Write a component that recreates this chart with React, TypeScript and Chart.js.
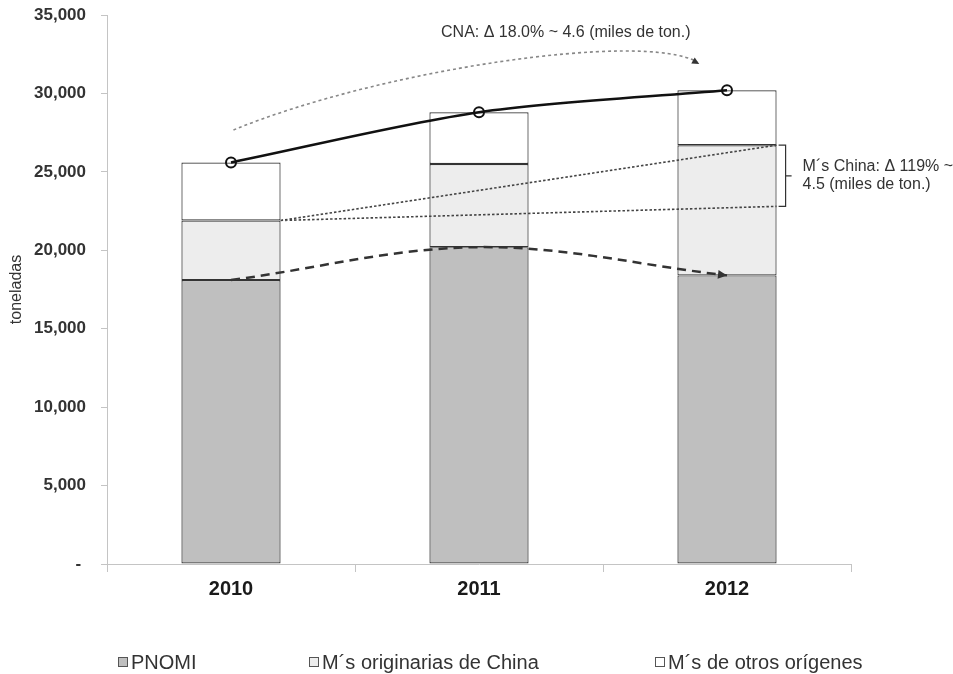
import React, { useEffect, useRef } from "react";
import { Chart, registerables } from "chart.js";

Chart.register(...registerables);

const categories = ["2010", "2011", "2012"];
const pnomi = [18100, 20200, 18400];
const china = [3800, 5300, 8300];
const otros = [3700, 3300, 3500];
const totals = [25600, 28800, 30200];
const seriesLabels = ["PNOMI", "M´s originarias de China", "M´s de otros orígenes"];
const seriesColors = ["#bfbfbf", "#ededed", "#ffffff"];
const cnaText = "CNA: Δ 18.0% ~ 4.6 (miles de ton.)";
const chinaText = ["M´s China: Δ 119% ~", "4.5 (miles de ton.)"];
const chinaLowerEnd = 22800;
// curved dotted arrow: start, control 1, control 2, end (category index, value)
const cnaArrowX = [0.01, 0.6, 1.66, 1.88];
const cnaArrowY = [27670, 31500, 34000, 32000];
const cnaTextPos = { x: 1.35, y: 33900 };

const FONT = "'Liberation Sans', Arial, Helvetica, sans-serif";

function arrowHead(ctx: CanvasRenderingContext2D, x: number, y: number, dx: number, dy: number, size: number, color: string) {
  const a = Math.atan2(dy, dx);
  ctx.save();
  ctx.setLineDash([]);
  ctx.fillStyle = color;
  ctx.beginPath();
  ctx.moveTo(x, y);
  ctx.lineTo(x - size * Math.cos(a - 0.45), y - size * Math.sin(a - 0.45));
  ctx.lineTo(x - size * Math.cos(a + 0.45), y - size * Math.sin(a + 0.45));
  ctx.closePath();
  ctx.fill();
  ctx.restore();
}

const annotationPlugin = {
  id: "annotations",
  afterDatasetsDraw(chart: any) {
    const ctx: CanvasRenderingContext2D = chart.ctx;
    const xs = chart.scales.x;
    const ys = chart.scales.y;
    const bars = chart.getDatasetMeta(1).data;
    ctx.save();

    // dotted lines from China 2010 top to 2012
    const x0 = bars[0].x + bars[0].width / 2;
    const y0 = ys.getPixelForValue(pnomi[0] + china[0]);
    const x2 = bars[2].x + bars[2].width / 2;
    const yTop = ys.getPixelForValue(pnomi[2] + china[2]);
    const yLow = ys.getPixelForValue(chinaLowerEnd);
    ctx.strokeStyle = "#444";
    ctx.lineWidth = 1.6;
    ctx.setLineDash([2.5, 2]);
    ctx.beginPath();
    ctx.moveTo(x0, y0);
    ctx.lineTo(x2, yTop);
    ctx.moveTo(x0, y0);
    ctx.lineTo(x2, yLow);
    ctx.stroke();

    // curved dotted arrow (CNA)
    const px = cnaArrowX.map((v) => xs.getPixelForValue(v));
    const py = cnaArrowY.map((v) => ys.getPixelForValue(v));
    ctx.strokeStyle = "#888";
    ctx.lineWidth = 1.6;
    ctx.setLineDash([3, 3]);
    ctx.beginPath();
    ctx.moveTo(px[0], py[0]);
    ctx.bezierCurveTo(px[1], py[1], px[2], py[2], px[3], py[3]);
    ctx.stroke();
    arrowHead(ctx, px[3] + 2, py[3] + 2, px[3] - px[2], py[3] - py[2], 8, "#333");

    // arrowhead of PNOMI dashed line
    const pm = chart.getDatasetMeta(3).data;
    const last = pm[pm.length - 1];
    const dx = last.x - (last.cp1x ?? pm[pm.length - 2].x);
    const dy = last.y - (last.cp1y ?? pm[pm.length - 2].y);
    arrowHead(ctx, last.x, last.y, dx, dy, 10, "#333");

    // bracket
    const bx = x2 + 9;
    const ym = (yTop + yLow) / 2;
    ctx.setLineDash([]);
    ctx.strokeStyle = "#333";
    ctx.lineWidth = 1.2;
    ctx.beginPath();
    ctx.moveTo(bx - 7, yTop);
    ctx.lineTo(bx, yTop);
    ctx.lineTo(bx, yLow);
    ctx.lineTo(bx - 7, yLow);
    ctx.moveTo(bx, ym);
    ctx.lineTo(bx + 6, ym);
    ctx.stroke();

    // texts
    ctx.fillStyle = "#333";
    ctx.font = `16px ${FONT}`;
    ctx.textBaseline = "middle";
    ctx.textAlign = "left";
    ctx.fillText(chinaText[0], bx + 17, ym - 9);
    ctx.fillText(chinaText[1], bx + 17, ym + 9);
    ctx.textAlign = "center";
    ctx.fillText(cnaText, xs.getPixelForValue(cnaTextPos.x), ys.getPixelForValue(cnaTextPos.y));

    ctx.restore();
  },
  afterDraw(chart: any) {
    const ctx: CanvasRenderingContext2D = chart.ctx;
    const w = chart.width;
    const pos = [118 / 953, 309 / 953, 655 / 953];
    const y = chart.height - 12;
    ctx.save();
    ctx.font = `20px ${FONT}`;
    ctx.textBaseline = "middle";
    ctx.textAlign = "left";
    seriesLabels.forEach((label, i) => {
      const x = pos[i] * w;
      ctx.fillStyle = seriesColors[i];
      ctx.fillRect(x, y - 5, 10, 10);
      ctx.strokeStyle = "#555";
      ctx.lineWidth = 1;
      ctx.strokeRect(x + 0.5, y - 4.5, 9, 9);
      ctx.fillStyle = "#333";
      ctx.fillText(label, x + 13, y + 1);
    });
    ctx.restore();
  },
};

export default function App() {
  const ref = useRef<HTMLCanvasElement>(null);
  useEffect(() => {
    if (!ref.current) return;
    Chart.defaults.font.family = FONT;
    const barCommon = {
      type: "bar" as const,
      stack: "bars",
      borderColor: "#333",
      borderWidth: 1.2,
      borderSkipped: false as const,
      barPercentage: 0.4,
      categoryPercentage: 1,
      order: 2,
    };
    const chart = new Chart(ref.current, {
      type: "bar",
      data: {
        labels: categories,
        datasets: [
          { ...barCommon, label: seriesLabels[0], data: pnomi, backgroundColor: seriesColors[0] },
          { ...barCommon, label: seriesLabels[1], data: china, backgroundColor: seriesColors[1] },
          { ...barCommon, label: seriesLabels[2], data: otros, backgroundColor: seriesColors[2] },
          {
            type: "line" as const,
            label: "PNOMI tendencia",
            stack: "pn",
            data: pnomi,
            borderColor: "#333",
            borderWidth: 2.5,
            borderDash: [9, 6],
            tension: 0.35,
            pointRadius: 0,
            fill: false,
            order: 1,
          },
          {
            type: "line" as const,
            label: "CNA",
            stack: "total",
            data: totals,
            borderColor: "#111",
            borderWidth: 2.5,
            tension: 0.3,
            pointRadius: 5,
            pointBorderWidth: 2,
            pointBorderColor: "#111",
            pointBackgroundColor: "rgba(0,0,0,0)",
            fill: false,
            order: 0,
          },
        ] as any,
      },
      options: {
        animation: false,
        responsive: true,
        maintainAspectRatio: false,
        layout: { padding: { left: 0, top: 15, right: 102, bottom: 70 } },
        plugins: { legend: { display: false }, tooltip: { enabled: false } },
        scales: {
          x: {
            stacked: true,
            grid: { display: true, drawOnChartArea: false, offset: true, tickLength: 8, color: "#c4c4c4" },
            border: { color: "#c4c4c4" },
            ticks: { font: { size: 20, weight: "bold" }, color: "#1a1a1a", padding: 5 },
            afterFit: (s: any) => {
              s.height = 40;
            },
          },
          y: {
            stacked: true,
            min: 0,
            max: 35000,
            ticks: {
              stepSize: 5000,
              font: { size: 17, weight: "bold" },
              color: "#333",
              padding: 15,
              callback: (v: any) => (Number(v) === 0 ? "- " : Number(v).toLocaleString("en-US")),
            },
            grid: { drawOnChartArea: false, tickLength: 6, color: "#c4c4c4" },
            border: { color: "#c4c4c4" },
            title: { display: true, text: "toneladas", font: { size: 16 }, color: "#333", padding: { top: 7, bottom: 0 } },
            afterFit: (s: any) => {
              s.width = 107;
              s.paddingTop = 0;
              s.paddingBottom = 0;
            },
          },
        },
      } as any,
      plugins: [annotationPlugin],
    });
    return () => chart.destroy();
  }, []);
  return (
    <div style={{ position: "absolute", left: 0, top: 0, width: 953, height: 674, background: "#fff" }}>
      <canvas ref={ref} />
    </div>
  );
}
